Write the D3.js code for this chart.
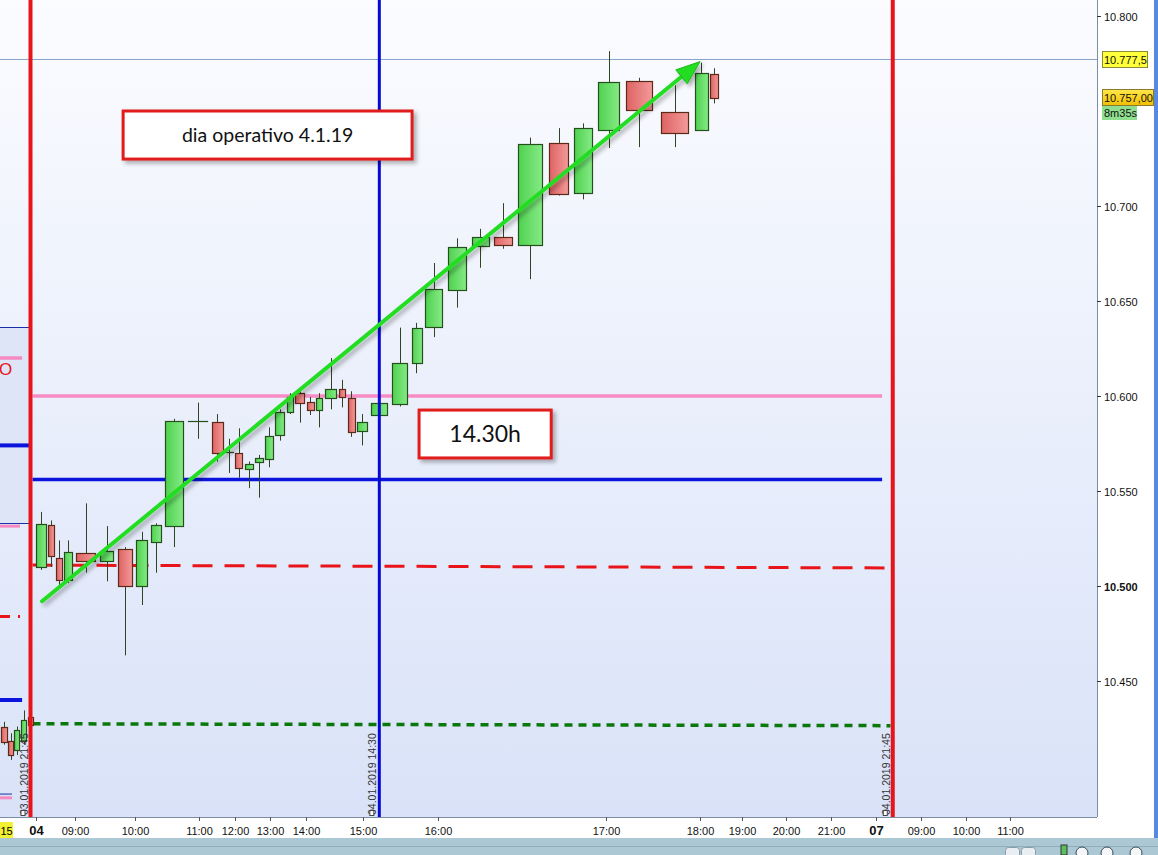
<!DOCTYPE html>
<html lang="en">
<head>
<meta charset="UTF-8">
<title>DAX 15m - dia operativo 4.1.19</title>
<script src="https://d3js.org/d3.v7.min.js"></script>
<style>
  body { margin: 0; background: #fff; }
  svg { display: block; font-family: "Liberation Sans", Arial, sans-serif; }
</style>
</head>
<body>
<svg id="chart" width="1158" height="855"></svg>
<script>
// bars: last 5 of 03.01 then the session of 04.01 (equivolume slot width)
var barVol = [7.5, 6, 6.5, 7, 7,
  13, 8, 8, 10.5, 24.5, 17.5, 19, 15, 12.5, 23.5, 24.5, 14, 10, 9.5, 10.5, 10, 10, 12, 8, 11.5,
  9.5, 8.5, 14.5, 8.5, 9, 13, 21.5, 20, 12.5, 22.5, 24, 22, 23.5, 31.5, 25.5, 23.5, 27, 34.5, 36, 16.5, 10];
var barOpen = [10426, 10418.5, 10413.5, 10418.5, 10431,
  10510, 10532, 10514.5, 10503, 10517.5, 10513.5, 10519.5, 10500, 10523, 10531.5, 10587, 10586.5, 10570.5, 10570, 10561.5, 10565.5,
  10567, 10579.5, 10591.5, 10601.5, 10597, 10592.5, 10598.5, 10603.5, 10599, 10582, 10590, 10596, 10617.5, 10636.5, 10656, 10679,
  10683.5, 10679.5, 10733, 10707, 10740, 10766, 10749.5, 10740, 10769.5];
var barHigh = [10428.5, 10422.5, 10426, 10434.5, 10432,
  10539, 10534.5, 10524, 10524, 10543.5, 10531.5, 10520.5, 10528.5, 10533, 10588, 10596.5, 10590.5, 10577.5, 10583, 10565.5, 10569,
  10583.5, 10593, 10601.5, 10603, 10599.5, 10601.5, 10620, 10608.5, 10602.5, 10590.5, 10597.5, 10636, 10638.5, 10670, 10683, 10688,
  10701.5, 10736, 10741, 10743.5, 10781.5, 10767.5, 10763.5, 10775.5, 10772.5];
var barLow = [10416.5, 10408.5, 10411, 10416.5, 10426,
  10508.5, 10510, 10500.5, 10501.5, 10507, 10502.5, 10463.5, 10490, 10507, 10520.5, 10577.5, 10565.5, 10559.5, 10557, 10551.5, 10546.5,
  10562.5, 10576.5, 10590.5, 10586, 10590, 10583.5, 10593, 10594, 10578.5, 10574, 10589, 10594.5, 10612, 10631, 10646.5, 10667.5,
  10677.5, 10661.5, 10705.5, 10703.5, 10730.5, 10731, 10731, 10740, 10754];
var barClose = [10418, 10411, 10424, 10429.5, 10427,
  10532.5, 10515.5, 10503, 10518, 10513.5, 10518.5, 10500, 10524, 10532, 10587, 10587, 10570, 10570.5, 10562, 10564, 10567.5,
  10579, 10591.5, 10599.5, 10596.5, 10593, 10599, 10603.5, 10599.5, 10581, 10586.5, 10596.5, 10617.5, 10636, 10656.5, 10678.5, 10683.5,
  10679.5, 10732.5, 10706, 10741, 10765.5, 10751, 10738.5, 10770, 10757];
var futureBars = 34, futureVol = 11.2;

var priceTicks = [10450, 10500, 10550, 10600, 10650, 10700, 10800];
var timeLabels = ["04", "09:00", "10:00", "11:00", "12:00", "13:00", "14:00", "15:00", "16:00", "17:00", "18:00",
  "19:00", "20:00", "21:00", "07", "09:00", "10:00", "11:00"];
var timeBars = [5.15, 9.05, 12.03, 15.55, 18.1, 21.6, 25.05, 30.58, 34.69, 41.41, 44.45, 48, 52, 56, 60, 64, 68, 72];

// horizontal levels of the day (start / end price, end bar)
var levelFrom = [10600, 10556, 10511, 10427.5];
var levelTo = [10600, 10556, 10509.5, 10426.5];
var levelEnd = [60.55, 60.55, 61.5, 61.3];
// levels left over from the day before
var oldLevels = [10620, 10574, 10531.5, 10484, 10440, 10388.5];
var oldLevelEnd = [3.3, 4.3, 3, 3, 3.3, 1.75];

var vLineBars = [4.5, 31.5, 61.5];
var vLineLabels = ["03.01.2019 21:45", "04.01.2019 14:30", "04.01.2019 21:45"];

var lastPrice = 10757, markPrice = 10777.5;

var svg = d3.select("#chart");
var plotR = 1097, plotB = 817;

// x: bar index -> cumulative volume -> pixels
var bounds = [0];
barVol.forEach(function(v) { bounds.push(bounds[bounds.length - 1] + v); });
for (var f = 0; f < futureBars; f++) bounds.push(bounds[bounds.length - 1] + futureVol);
var xVol = d3.scaleLinear().domain([0, bounds[bounds.length - 1]]).range([0, 1100]);
var x = d3.scaleLinear().domain(d3.range(bounds.length)).range(bounds.map(xVol));
var y = d3.scaleLinear().domain([10800, 10400]).range([16, 776]);

var defs = svg.append("defs");
var bg = defs.append("linearGradient").attr("id", "bg").attr("x1", 0).attr("y1", 0).attr("x2", 0).attr("y2", 1);
bg.append("stop").attr("offset", "0%").attr("stop-color", "#fbfcff");
bg.append("stop").attr("offset", "100%").attr("stop-color", "#d9e2f8");
var gg = defs.append("linearGradient").attr("id", "up");
gg.append("stop").attr("offset", "0%").attr("stop-color", "#4fd24f");
gg.append("stop").attr("offset", "100%").attr("stop-color", "#86ea86");
var rg = defs.append("linearGradient").attr("id", "down");
rg.append("stop").attr("offset", "0%").attr("stop-color", "#df6363");
rg.append("stop").attr("offset", "100%").attr("stop-color", "#f39a9a");
var yl = defs.append("linearGradient").attr("id", "last").attr("x1", 0).attr("y1", 0).attr("x2", 0).attr("y2", 1);
yl.append("stop").attr("offset", "0%").attr("stop-color", "#ffe84a");
yl.append("stop").attr("offset", "100%").attr("stop-color", "#f2be00");
defs.append("filter").attr("id", "shadow").attr("x", "-10%").attr("y", "-10%").attr("width", "130%").attr("height", "140%")
  .append("feDropShadow").attr("dx", 3).attr("dy", 3).attr("stdDeviation", 2)
  .attr("flood-color", "#000").attr("flood-opacity", 0.3);
defs.append("clipPath").attr("id", "plotclip").append("rect")
  .attr("x", 0).attr("y", 0).attr("width", plotR).attr("height", plotB);

// background
svg.append("rect").attr("width", 1158).attr("height", 855).attr("fill", "#fff");
svg.append("rect").attr("x", 0).attr("y", 0).attr("width", plotR).attr("height", plotB).attr("fill", "url(#bg)");

var plot = svg.append("g").attr("clip-path", "url(#plotclip)");

// previous-day panel on the far left
plot.append("rect").attr("x", 0).attr("y", y(10636.3)).attr("width", x(4.5)).attr("height", y(10533.2) - y(10636.3))
  .attr("fill", "#dde5f7");
[10636.3, 10533.2].forEach(function(p) {
  plot.append("line").attr("x1", 0).attr("x2", x(4.5)).attr("y1", Math.round(y(p)) + 0.5).attr("y2", Math.round(y(p)) + 0.5)
    .attr("stroke", "#1c2fa8").attr("stroke-width", 1);
});
plot.append("line").attr("x1", 0).attr("x2", x(1.75)).attr("y1", y(10390.5)).attr("y2", y(10390.5))
  .attr("stroke", "#1c2fa8").attr("stroke-width", 1);
var oldStyle = [
  { c: "#f58ac0", w: 3.5, d: null }, { c: "#0a14dc", w: 4, d: null }, { c: "#f58ac0", w: 3, d: null },
  { c: "#e8141a", w: 3, d: "10,8" }, { c: "#0a14dc", w: 4, d: null }, { c: "#f58ac0", w: 3, d: null }];
oldLevels.forEach(function(p, i) {
  plot.append("line").attr("x1", 0).attr("x2", x(oldLevelEnd[i])).attr("y1", y(p)).attr("y2", y(p))
    .attr("stroke", oldStyle[i].c).attr("stroke-width", oldStyle[i].w).attr("stroke-dasharray", oldStyle[i].d);
});
plot.append("text").attr("x", -1).attr("y", y(10611)).attr("fill", "#e8141a").attr("font-size", 17).text("O");

// last price mark line
plot.append("line").attr("x1", 0).attr("x2", plotR).attr("y1", Math.round(y(markPrice)) + 0.5).attr("y2", Math.round(y(markPrice)) + 0.5)
  .attr("stroke", "#88a4c8").attr("stroke-width", 1);

// levels of the day
var levelStyle = [
  { c: "#f78cc4", w: 3.5, d: null }, { c: "#0a14dc", w: 3.5, d: null },
  { c: "#e8141a", w: 3, d: "20,12" }, { c: "#0a780a", w: 3.5, d: "8,6" }];
levelFrom.forEach(function(p, i) {
  plot.append("line").attr("x1", x(4.5) + 2).attr("x2", x(levelEnd[i]))
    .attr("y1", y(p)).attr("y2", y(levelTo[i]))
    .attr("stroke", levelStyle[i].c).attr("stroke-width", levelStyle[i].w).attr("stroke-dasharray", levelStyle[i].d);
});

// candles
var candles = d3.range(barVol.length).map(function(i) {
  return { i: i, o: barOpen[i], h: barHigh[i], l: barLow[i], c: barClose[i] };
});
var cg = plot.append("g").selectAll("g").data(candles).enter().append("g");
cg.append("line")
  .attr("x1", function(d) { return Math.round(x(d.i + 0.5)) + 0.5; })
  .attr("x2", function(d) { return Math.round(x(d.i + 0.5)) + 0.5; })
  .attr("y1", function(d) { return y(d.h); })
  .attr("y2", function(d) { return y(d.l); })
  .attr("stroke", "#2f4420").attr("stroke-width", 1);
cg.append("rect")
  .attr("x", function(d) { var w = (x(d.i + 1) - x(d.i)) * 0.76; return Math.round(x(d.i + 0.5) - w / 2) + 0.5; })
  .attr("width", function(d) { return Math.round((x(d.i + 1) - x(d.i)) * 0.76); })
  .attr("y", function(d) { return Math.round(y(Math.max(d.o, d.c))) + 0.5; })
  .attr("height", function(d) { return Math.max(0.01, Math.round(Math.abs(y(d.o) - y(d.c)))); })
  .attr("fill", function(d) { return d.c >= d.o ? "url(#up)" : "url(#down)"; })
  .attr("stroke", function(d) { return d.c >= d.o ? "#25501d" : "#5e2a18"; })
  .attr("stroke-width", 1.2);

// vertical time lines
var vStyle = [{ c: "#e8141a", w: 4 }, { c: "#0808d6", w: 3 }, { c: "#e8141a", w: 4 }];
vLineBars.forEach(function(b, i) {
  var xv = x(b);
  plot.append("line").attr("x1", xv).attr("x2", xv).attr("y1", 0).attr("y2", plotB)
    .attr("stroke", vStyle[i].c).attr("stroke-width", vStyle[i].w);
  plot.append("text").attr("transform", "translate(" + (xv - 3) + "," + (plotB - 2) + ") rotate(-90)")
    .attr("font-size", 10.5).attr("fill", "#333").text(vLineLabels[i]);
  plot.append("rect").attr("x", xv - 9.5).attr("y", 810.5).attr("width", 4).attr("height", 5)
    .attr("fill", "#fff").attr("stroke", "#444").attr("stroke-width", 1);
});

// trend arrow
var ax1 = x(5.62), ay1 = y(10492), ax2 = x(44.45), ay2 = y(10776);
var ang = Math.atan2(ay2 - ay1, ax2 - ax1), hl = 24, hw = 9;
var bx = ax2 - hl * Math.cos(ang), by = ay2 - hl * Math.sin(ang);
var arrow = plot.append("g").attr("filter", "url(#shadow)");
arrow.append("line").attr("x1", ax1).attr("y1", ay1).attr("x2", bx).attr("y2", by)
  .attr("stroke", "#22dd22").attr("stroke-width", 4).attr("stroke-linecap", "round");
arrow.append("path")
  .attr("d", "M" + ax2 + "," + ay2 +
    "L" + (bx + hw * Math.sin(ang)) + "," + (by - hw * Math.cos(ang)) +
    "L" + (bx - hw * Math.sin(ang)) + "," + (by + hw * Math.cos(ang)) + "Z")
  .attr("fill", "#22dd22").attr("stroke", "#1bb81b").attr("stroke-width", 1);

// text boxes
function note(b0, b1, p0, p1, label, size) {
  var gx = x(b0), gw = x(b1) - x(b0), gy = y(p0), gh = y(p1) - y(p0);
  plot.append("rect").attr("x", gx).attr("y", gy).attr("width", gw).attr("height", gh)
    .attr("fill", "#fff").attr("stroke", "#e01b1b").attr("stroke-width", 3).attr("filter", "url(#shadow)");
  plot.append("text").attr("x", gx + gw / 2).attr("y", gy + gh / 2).attr("dy", "0.35em")
    .attr("text-anchor", "middle").attr("font-family", "Lato, 'Open Sans', sans-serif")
    .attr("font-size", size).attr("fill", "#111").text(label);
}
note(11.4, 33.16, 10750, 10724.7, "dia operativo 4.1.19", 19.5);
note(33.72, 39.2, 10592.6, 10567.4, "14.30h", 23);

// right price axis
svg.append("line").attr("x1", plotR + 0.5).attr("x2", plotR + 0.5).attr("y1", 0).attr("y2", plotB)
  .attr("stroke", "#7d8ea4");
priceTicks.forEach(function(p) {
  var yy = Math.round(y(p)) + 0.5;
  svg.append("line").attr("x1", plotR).attr("x2", plotR + 4).attr("y1", yy).attr("y2", yy).attr("stroke", "#333");
  svg.append("text").attr("x", plotR + 7).attr("y", yy + 4).attr("font-size", 11)
    .attr("font-weight", p === 10500 ? "bold" : "normal").attr("fill", "#111")
    .text(d3.format(",")(p).replace(",", "."));
});
svg.append("rect").attr("x", 1102.5).attr("y", Math.round(y(markPrice)) - 7.5).attr("width", 45).attr("height", 16)
  .attr("fill", "#ffff3a").attr("stroke", "#8a8a3a");
svg.append("text").attr("x", 1104).attr("y", Math.round(y(markPrice)) + 5).attr("font-size", 11).attr("fill", "#111")
  .text("10.777,5");
svg.append("rect").attr("x", 1102.5).attr("y", Math.round(y(lastPrice)) - 8.5).attr("width", 51).attr("height", 16)
  .attr("fill", "url(#last)").attr("stroke", "#8a7a30");
svg.append("text").attr("x", 1104).attr("y", Math.round(y(lastPrice)) + 4).attr("font-size", 11).attr("fill", "#111")
  .text("10.757,00");
svg.append("rect").attr("x", 1102).attr("y", Math.round(y(lastPrice)) + 8).attr("width", 35).attr("height", 14)
  .attr("fill", "#8fdf8f");
svg.append("text").attr("x", 1104).attr("y", Math.round(y(lastPrice)) + 19).attr("font-size", 11).attr("fill", "#111")
  .text("8m35s");
svg.append("rect").attr("x", 1154).attr("y", 0).attr("width", 4).attr("height", 838).attr("fill", "#5a88e0");

// bottom time axis
svg.append("line").attr("x1", 0).attr("x2", plotR).attr("y1", plotB + 0.5).attr("y2", plotB + 0.5).attr("stroke", "#7d8ea4");
svg.append("rect").attr("x", 0).attr("y", 822).attr("width", 13).attr("height", 16).attr("fill", "#f2f233");
svg.append("text").attr("x", 6.5).attr("y", 834.5).attr("text-anchor", "middle").attr("font-size", 11)
  .attr("font-family", "'Liberation Sans Narrow', 'Liberation Sans', sans-serif").text("15");
timeBars.forEach(function(b, i) {
  var xt = Math.round(x(b)) + 0.5, day = timeLabels[i].length === 2;
  svg.append("line").attr("x1", xt).attr("x2", xt).attr("y1", plotB).attr("y2", plotB + 4).attr("stroke", "#555");
  svg.append("text").attr("x", xt).attr("y", 834.5).attr("text-anchor", "middle")
    .attr("font-size", day ? 13 : 11).attr("font-weight", day ? "bold" : "normal")
    .attr("font-family", day ? "'Liberation Sans', sans-serif" : "'Liberation Sans Narrow', 'Liberation Sans', sans-serif")
    .attr("fill", "#111").text(timeLabels[i]);
});

// tool bar strip
svg.append("rect").attr("x", 0).attr("y", 838).attr("width", 1158).attr("height", 17).attr("fill", "#abc8d4");
svg.append("line").attr("x1", 0).attr("x2", 1158).attr("y1", 846.5).attr("y2", 846.5).attr("stroke", "#8eaebc");
svg.append("rect").attr("x", 1005.5).attr("y", 847.5).attr("width", 14).attr("height", 10).attr("rx", 3)
  .attr("fill", "#e8eef2").attr("stroke", "#8a9aa6");
svg.append("rect").attr("x", 1021.5).attr("y", 847.5).attr("width", 14).attr("height", 10).attr("rx", 3)
  .attr("fill", "#e8eef2").attr("stroke", "#8a9aa6");
[1082, 1107, 1136].forEach(function(cx) {
  svg.append("circle").attr("cx", cx).attr("cy", 853).attr("r", 6).attr("fill", "#f4f6f8").attr("stroke", "#3a4a5a");
});
svg.append("rect").attr("x", 1061).attr("y", 845).attr("width", 6).attr("height", 10).attr("fill", "#5cbf5c").attr("stroke", "#333");
</script>
</body>
</html>
